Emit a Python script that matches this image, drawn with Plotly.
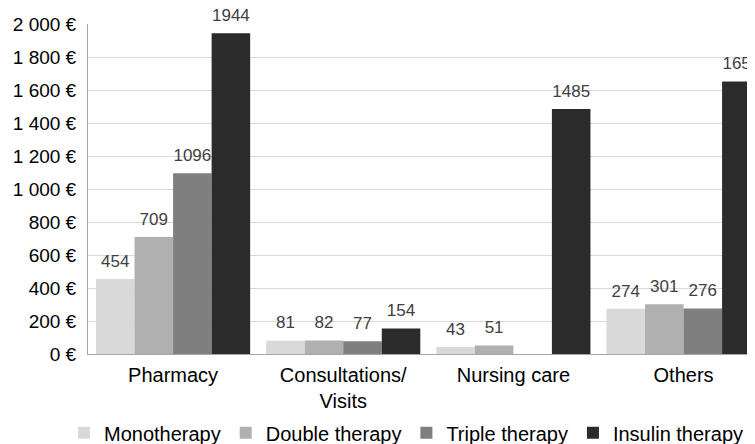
import plotly.graph_objects as go

categories = ["Pharmacy", "Consultations/<br>Visits", "Nursing care", "Others"]
series_names = ["Monotherapy", "Double therapy", "Triple therapy", "Insulin therapy"]
mono = [454, 81, 43, 274]
double = [709, 82, 51, 301]
triple = [1096, 77, None, 276]
insulin = [1944, 154, 1485, 1651]
tick_vals = [0, 200, 400, 600, 800, 1000, 1200, 1400, 1600, 1800, 2000]
tick_text = ["0 €", "200 €", "400 €", "600 €", "800 €", "1 000 €", "1 200 €",
             "1 400 €", "1 600 €", "1 800 €", "2 000 €"]
colors = ["#d9d9d9", "#b0b0b0", "#7f7f7f", "#2b2b2b"]
LABEL_PAD = 32  # extra space (data units) between bar top and its value label

FONT = "Liberation Sans, Arial"

fig = go.Figure()
for i, (name, vals, col) in enumerate(zip(series_names, [mono, double, triple, insulin], colors)):
    fig.add_trace(go.Bar(
        x=categories, y=vals, name=name, marker_color=col, marker_line_width=0,
        offsetgroup=str(i),
    ))
    # transparent companion bar carrying the value label slightly above the bar
    fig.add_trace(go.Bar(
        x=categories, y=[None if v is None else v + LABEL_PAD for v in vals],
        marker_color="rgba(0,0,0,0)", marker_line_width=0, offsetgroup=str(i),
        text=[("" if v is None else str(v)) for v in vals],
        textposition="outside", cliponaxis=False, constraintext="none",
        textfont=dict(family=FONT, size=17, color="#404040"),
        showlegend=False, hoverinfo="skip",
    ))

# page body has an 8px margin; margins compensate so the plot sits where the reference has it
fig.update_layout(
    width=755, height=444,
    margin=dict(l=80, r=8, t=16, b=98, autoexpand=False),
    paper_bgcolor="white", plot_bgcolor="white",
    barmode="group", bargap=0.094, bargroupgap=0,
    font=dict(family=FONT, color="#000000"),
    legend=dict(orientation="h", x=-0.036, xanchor="left", y=-0.239, yanchor="middle",
                bgcolor="rgba(0,0,0,0)",
                font=dict(size=20), traceorder="normal", itemwidth=30),
    showlegend=True,
)
fig.update_xaxes(range=[-0.5, 3.42], showline=True, linecolor="#a6a6a6", linewidth=1,
                 ticks="", tickfont=dict(size=20), showgrid=False,
                 automargin=False, ticklabelstandoff=3)
fig.update_yaxes(range=[0, 2000], tickvals=tick_vals, ticktext=tick_text,
                 showgrid=True, gridcolor="#d9d9d9", gridwidth=1,
                 showline=True, linecolor="#a6a6a6", linewidth=1,
                 tickfont=dict(size=19), ticks="", zeroline=False,
                 automargin=False, ticklabelstandoff=7)

fig.write_html("out.html")
